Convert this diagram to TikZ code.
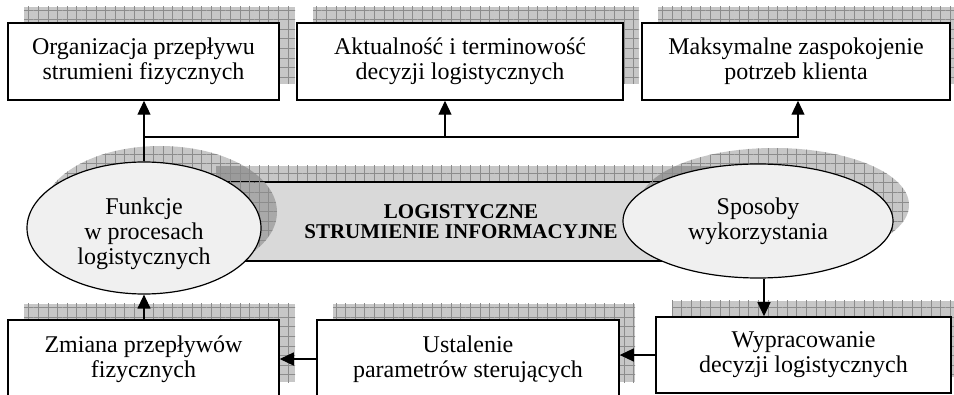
\documentclass[tikz,border=0pt]{standalone}
\usepackage{fontspec}
\setmainfont{Liberation Serif}
\usetikzlibrary{shapes.geometric,shadows,patterns.meta,arrows.meta}

\tikzset{
    grid shadow/.style={
        general shadow={shadow xshift=16pt, shadow yshift=16pt, fill=black, fill opacity=0.22},
        general shadow={shadow xshift=16pt, shadow yshift=16pt, pattern={Hatch[distance=9.6pt, line width=0.7pt]}, pattern color=black!45}},
    arr/.style={line width=1.2pt, -{Triangle[length=14pt, width=13pt]}}
}

\begin{document}
\begin{tikzpicture}[x=1pt, y=1pt, font=\fontsize{24pt}{25pt}\selectfont]
            \useasboundingbox (0,0) rectangle (954,394);
            \clip (0,0) rectangle (954,394);

            \node (band) [grid shadow, draw, line width=1.2pt, fill=black!15, minimum width=522pt, minimum height=79pt,
                align=center, font=\fontsize{21pt}{20pt}\selectfont\bfseries] at (461, 172.5) {LOGISTYCZNE\\STRUMIENIE INFORMACYJNE};

            \begin{scope}[every node/.style={ellipse, grid shadow, draw, line width=1.2pt, fill=black!6, inner sep=0pt, align=center}]
                \node (fun) [minimum width=234pt, minimum height=132pt] at (144, 166) {};
                \node (spo) [minimum width=270pt, minimum height=114pt] at (758, 173) {Sposoby\\wykorzystania};
            \end{scope}
            \node (funtxt) [align=center] at ([yshift=-6pt]fun.center) {Funkcje\\w procesach\\logistycznych};

            \begin{scope}[every node/.style={rectangle, grid shadow, draw, line width=1.5pt, fill=white, minimum height=77pt, inner sep=0pt, align=center}]
                \node (org) [minimum width=271pt] at (143.5, 332.5) {Organizacja przepływu\\strumieni fizycznych};
                \node (akt) [minimum width=326pt] at (460, 332.5) {Aktualność i terminowość\\decyzji logistycznych};
                \node (max) [minimum width=308pt] at (796, 332.5) {Maksymalne zaspokojenie\\potrzeb klienta};
                \node (zmi) [minimum width=271pt, minimum height=78pt] at (143.5, 35) {Zmiana przepływów\\fizycznych};
                \node (ust) [minimum width=302pt, minimum height=78pt] at (468, 35) {Ustalenie\\parametrów sterujących};
                \node (wyp) [minimum width=295pt, minimum height=76pt] at (803.5, 39) {Wypracowanie\\decyzji logistycznych};
            \end{scope}

            \coordinate (hub) at (144, 257);
            \draw [arr] (fun.north) -- (fun.north |- org.south);
            \draw [arr] (hub) -| ([xshift=2pt]max.south);
            \draw [arr] ([xshift=-15pt]akt.south |- hub) -- ([xshift=-15pt]akt.south);
            \draw [arr] ([xshift=6pt]spo.south) -- ([xshift=6pt]spo.south |- wyp.north);
            \draw [arr] (wyp.west) -- (wyp.west -| ust.east);
            \draw [arr] (ust.west) -- (zmi.east);
            \draw [arr] (fun.south |- zmi.north) -- (fun.south);
\end{tikzpicture}
\end{document}
